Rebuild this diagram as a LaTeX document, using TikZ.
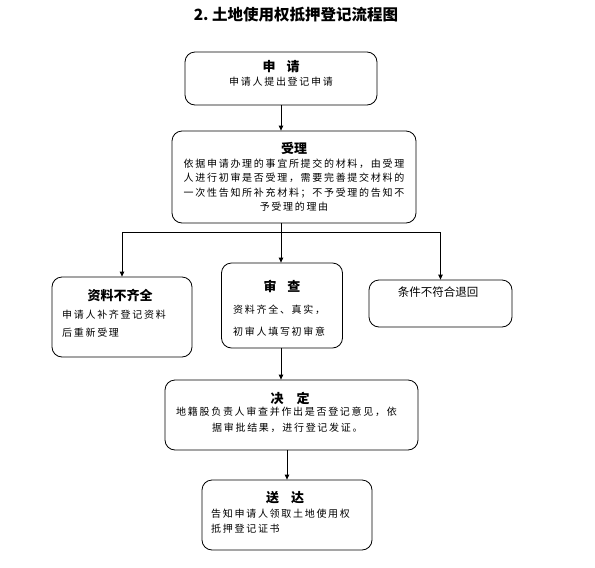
\documentclass[tikz,border=0pt]{standalone}
\usepackage{fontspec}
\newfontfamily\cjk{Noto Sans CJK SC}
\newfontfamily\cjkbody[LetterSpace=17]{Noto Sans CJK SC}
\usetikzlibrary{arrows.meta}
\begin{document}
\begin{tikzpicture}[x=1pt,y=-1pt,>={Triangle[length=5pt,width=4.5pt]},
    box/.style={draw,rounded corners=10pt,line width=0.8pt,inner sep=0pt},
    boxtitle/.style={font=\cjk\bfseries\fontsize{13}{15}\selectfont,inner sep=0pt},
    boxtext/.style={font=\cjkbody\fontsize{10}{14.5}\selectfont,inner sep=0pt},
    flow/.style={->,line width=0.8pt}]
    \useasboundingbox (0,0) rectangle (595,568);
    \node[font=\cjk\bfseries\fontsize{15.5}{18}\selectfont] (ttl) at (296,15)
      {2.\ 土地使用权抵押登记流程图};
    % boxes
    \node[box,minimum width=192,minimum height=53] (sq) at (281,78.5) {};
    \node[box,minimum width=244,minimum height=92] (sl) at (294,177) {};
    \node[box,minimum width=140,minimum height=80] (zl) at (122,317) {};
    \node[box,minimum width=121,minimum height=85] (sc) at (282,305.5) {};
    \node[box,minimum width=143,minimum height=47] (th) at (440.5,303.5) {};
    \node[box,minimum width=253,minimum height=70] (jd) at (291.5,415) {};
    \node[box,minimum width=170,minimum height=70] (sd) at (287,515) {};
    % texts
    \node[boxtitle] (sqT) at (281,67) {申\hspace{11pt}请};
    \node[boxtext] (sqB) at (281,82) {申请人提出登记申请};
    \node[boxtitle] (slT) at (294,148) {受理};
    \node[boxtext,align=center] (slB) at (294,185)
      {依据申请办理的事宜所提交的材料，由受理\\人进行初审是否受理，需要完善提交材料的\\
       一次性告知所补充材料；不予受理的告知不\\予受理的理由};
    \node[boxtitle] (zlT) at (120,295) {资料不齐全};
    \node[boxtext,align=left,anchor=west,font=\cjkbody\fontsize{10}{18}\selectfont]
      (zlB) at (62,324) {申请人补齐登记资料\\后重新受理};
    \node[boxtitle] (scT) at (282,286) {审\hspace{11pt}查};
    \node[boxtext,align=left,anchor=west,font=\cjkbody\fontsize{10}{22}\selectfont]
      (scB) at (233,321) {资料齐全、真实，\\初审人填写初审意};
    \node[font=\cjk\fontsize{11.5}{14}\selectfont,inner sep=0pt] (thT) at (438,292)
      {条件不符合退回};
    \node[boxtitle] (jdT) at (290,398) {决\hspace{13pt}定};
    \node[boxtext,align=left,anchor=west,font=\cjkbody\fontsize{10}{16}\selectfont]
      (jdB) at (176,420) {地籍股负责人审查并作出是否登记意见，依\\
       \hspace*{36pt}据审批结果，进行登记发证。};
    \node[boxtitle] (sdT) at (285,498) {送\hspace{12pt}达};
    \node[boxtext,align=left,anchor=west,font=\cjkbody\fontsize{10}{15}\selectfont]
      (sdB) at (211,521.5) {告知申请人领取土地使用权\\抵押登记证书};
    % connectors
    \coordinate (fk) at (281,232);
    \draw[flow] (sq.south) -- (sq.south |- sl.north);
    \draw[line width=0.8pt] (fk |- sl.south) -- (fk);
    \draw[flow] (fk) -| (zl.north);
    \draw[flow] (fk) -- (fk |- sc.north);
    \draw[flow] (fk) -| (th.north);
    \draw[flow] (sc.south -| fk) -- (fk |- jd.north);
    \draw[flow] (sd.north |- jd.south) -- (sd.north);
\end{tikzpicture}
\end{document}
